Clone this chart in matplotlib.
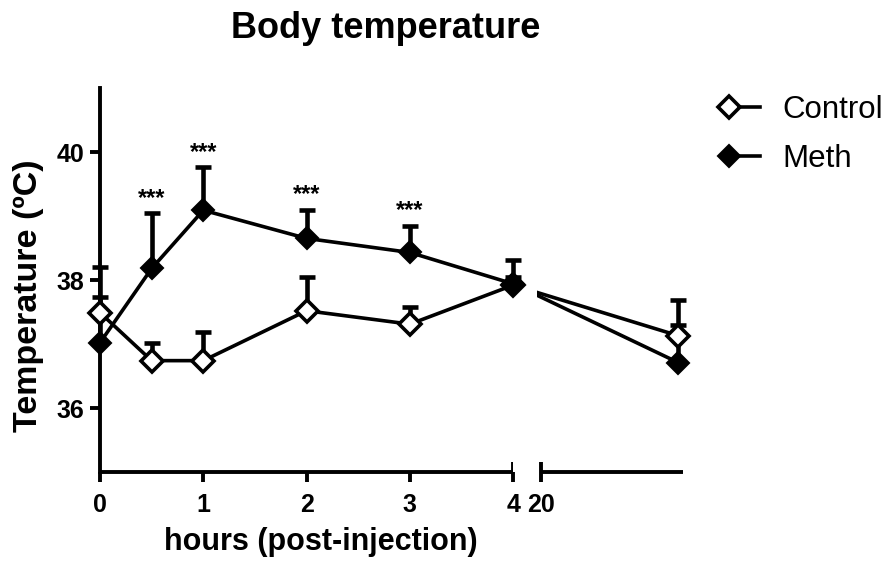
import numpy as np
import matplotlib
matplotlib.use('Agg')
import matplotlib.pyplot as plt
from matplotlib.legend_handler import HandlerTuple

plt.rcParams['font.family'] = ['Liberation Sans', 'DejaVu Sans']

# Data (hours post-injection, mean temperature, upper error)
hours = [0, 0.5, 1, 2, 3, 4, 24]
control_mean = [37.49, 36.74, 36.74, 37.52, 37.31, 37.92, 37.13]
control_err = [0.25, 0.28, 0.45, 0.53, 0.27, 0.12, 0.55]
meth_mean = [37.02, 38.18, 39.09, 38.65, 38.43, 37.94, 36.71]
meth_err = [1.19, 0.86, 0.68, 0.45, 0.42, 0.38, 0.59]
sig_hours = [0.5, 1, 2, 3]
sig_labels = ['***', '***', '***', '***']

# Broken x axis: 0-4 h, gap, 20-24 h (compressed)
GAP = 0.271
SQZ = 0.3316


def fwd(x):
    x = np.asarray(x, dtype=float)
    return np.where(x <= 4, x,
                    np.where(x >= 20, 4 + GAP + (x - 20) * SQZ,
                             4 + (x - 4) * GAP / 16))


def inv(u):
    u = np.asarray(u, dtype=float)
    return np.where(u <= 4, u,
                    np.where(u >= 4 + GAP, 20 + (u - 4 - GAP) / SQZ,
                             4 + (u - 4) * 16 / GAP))


fig = plt.figure(figsize=(8.84, 5.61), dpi=100)
ax = fig.add_axes([100 / 884, 1 - 472 / 561, 583 / 884, 384 / 561])
ax.set_xscale('function', functions=(fwd, inv))
ax.set_xlim(0, 24.14)
ax.set_ylim(35, 41)

lw = 2.6
# connecting lines
ax.plot(hours, control_mean, color='black', lw=lw, zorder=2)
ax.plot(hours, meth_mean, color='black', lw=lw, zorder=2)
# blank the lines across the axis break
ax.axvspan(4.0, 17.4, color='white', lw=0, zorder=2.2)

# upper error bars
for m, e in [(control_mean, control_err), (meth_mean, meth_err)]:
    eb = ax.errorbar(hours, m, yerr=[np.zeros(len(e)), e], fmt='none', ecolor='black',
                     elinewidth=3.3, capsize=5.5, capthick=3.3, zorder=2.5)
    for child in eb.get_children():
        child.set_clip_on(False)

ctrl_mk, = ax.plot(hours, control_mean, ls='none', marker='D', ms=11,
                   mfc='white', mec='black', mew=2.6, zorder=3, clip_on=False)
meth_mk, = ax.plot(hours, meth_mean, ls='none', marker='D', ms=11,
                   mfc='black', mec='black', mew=1.5, zorder=3.1, clip_on=False)

# significance stars above Meth error bars
for h, lab in zip(sig_hours, sig_labels):
    i = hours.index(h)
    ax.text(h, meth_mean[i] + meth_err[i] + 0.05, lab, ha='center', va='bottom',
            fontsize=17, fontweight='bold')

# axes styling
for s in ['top', 'right', 'bottom']:
    ax.spines[s].set_visible(False)
ax.spines['left'].set_linewidth(2.8)
xt = ax.get_xaxis_transform()
ax.plot([0, 4], [0, 0], transform=xt, color='black', lw=2.8, clip_on=False,
        solid_capstyle='butt', zorder=4)
ax.plot([20, 24.14], [0, 0], transform=xt, color='black', lw=2.8, clip_on=False,
        solid_capstyle='butt', zorder=4)

ax.set_yticks([36, 38, 40])
ax.set_xticks([0, 1, 2, 3])
ax.set_xticks([4, 20], minor=True)
ax.set_xticklabels(['0', '1', '2', '3'])
ax.set_xticklabels(['4', '20'], minor=True)
ax.tick_params(axis='both', which='major', direction='out', length=7, width=2.8,
               labelsize=18, pad=4)
ax.tick_params(axis='x', which='both', pad=8)
ax.tick_params(axis='x', which='minor', direction='inout', length=14, width=2.8,
               labelsize=18)
ax.tick_params(axis='y', which='minor', left=False)
for lab in ax.get_xticklabels(which='both') + ax.get_yticklabels():
    lab.set_fontweight('bold')

ax.set_xlabel('hours (post-injection)', fontsize=22, fontweight='bold', va='top')
ax.xaxis.set_label_coords(0.379, -0.142)
ax.set_ylabel('Temperature (ºC)', fontsize=24.5, fontweight='bold')
ax.yaxis.set_label_coords(-0.096, 0.46)

fig.text(0.436, 1 - 38 / 561, 'Body temperature', ha='center', va='baseline',
         fontsize=26, fontweight='bold')

# legend: line drawn over the marker, as in the original
ln_c = plt.Line2D([], [], color='black', lw=lw)
ln_m = plt.Line2D([], [], color='black', lw=lw)
ax.legend([(ctrl_mk, ln_c), (meth_mk, ln_m)], ['Control', 'Meth'],
          handler_map={tuple: HandlerTuple(ndivide=None)},
          loc='center left', bbox_to_anchor=(718 / 884, 1 - 134.5 / 561),
          bbox_transform=fig.transFigure, frameon=False, fontsize=22.5,
          handlelength=1.35, handletextpad=0.7, labelspacing=0.6,
          borderpad=0, borderaxespad=0)

fig.savefig('out.png', dpi=100)
